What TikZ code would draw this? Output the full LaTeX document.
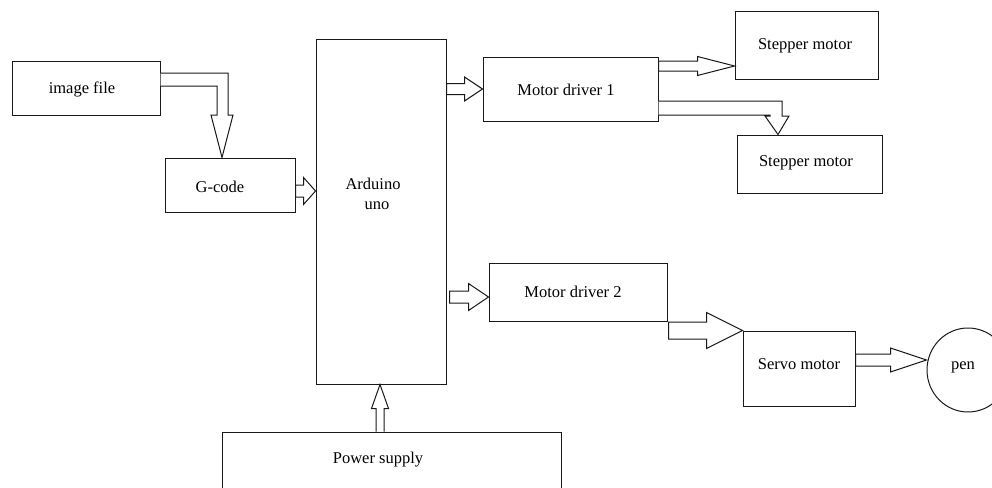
\documentclass[tikz,border=0pt]{standalone}
\usepackage{fontspec}
\setmainfont{Liberation Serif}
\usetikzlibrary{calc,shapes.geometric}
\tikzset{
  box/.style={draw=black!90, line width=1pt, fill=white, inner sep=0pt, rectangle},
  lbl/.style={inner sep=0pt, font=\fontsize{16.5}{20}\selectfont, text=black},
  blk/.style={draw=black!90, line width=1pt, fill=white, line join=miter},
}
% horizontal block arrow: #1 start, #2 tip, #3 shaft half, #4 head half, #5 head length
\newcommand{\hblk}[5]{%
  \draw[blk] ($#1+(0,#3)$) -- ($#2+(-#5,#3)$) -- ($#2+(-#5,#4)$) -- #2
    -- ($#2+(-#5,-#4)$) -- ($#2+(-#5,-#3)$) -- ($#1+(0,-#3)$) -- cycle;}
\begin{document}
\begin{tikzpicture}[x=1pt,y=-1pt]
\useasboundingbox (0,0) rectangle (992,487);
\clip (0,0) rectangle (992,487);
\fill[white] (0,0) rectangle (992,487);
% boxes
\node[box, minimum width=148pt, minimum height=54pt] (img) at (86,88) {};
\node[box, minimum width=130pt, minimum height=54pt] (gcode) at (230,185) {};
\node[box, minimum width=130pt, minimum height=344pt] (ard) at (381,212) {};
\node[box, minimum width=175pt, minimum height=63pt] (md1) at (570.5,89.5) {};
\node[box, minimum width=143pt, minimum height=67pt] (st1) at (806.5,45.5) {};
\node[box, minimum width=145pt, minimum height=58pt] (st2) at (809.5,164) {};
\node[box, minimum width=178pt, minimum height=58pt] (md2) at (578,292) {};
\node[box, minimum width=112pt, minimum height=75pt] (servo) at (799,368.5) {};
\node[box, minimum width=339pt, minimum height=90pt] (power) at (391.5,477) {};
\node[draw=black!90, line width=1pt, ellipse, minimum width=82pt, minimum height=84pt, inner sep=0pt] (pen) at (968,370) {};
% texts
\node[lbl] (timg) at (82,89) {image file};
\node[lbl] (tgc) at (220,187) {G-code};
\node[lbl] (tard1) at (373,184) {Arduino};
\node[lbl] (tard2) at (377,206) {uno};
\node[lbl] (tmd1) at (566,90) {Motor driver 1};
\node[lbl] (tst1) at (805,46) {Stepper motor};
\node[lbl] (tst2) at (806,163) {Stepper motor};
\node[lbl] (tmd2) at (573,292) {Motor driver 2};
\node[lbl] (tservo) at (799,364) {Servo motor};
\node[lbl] (tpen) at (963,367) {pen};
\node[lbl] (tpow) at (378,460) {Power supply};
% straight block arrows
\hblk{(gcode.east |- 0,191)}{(ard.west |- 0,191)}{6}{13.5}{12}
\hblk{(ard.east |- 0,89)}{(md1.west |- 0,89)}{5.5}{12}{18}
\hblk{(md1.east |- 0,66)}{(st1.west |- 0,66)}{5}{9.5}{37}
\hblk{($(ard.east |- 0,297)+(3,0)$)}{(md2.west |- 0,297)}{6}{13.5}{20}
\hblk{($(md2.east |- servo.north west)+(1,0)$)}{(servo.north west)}{8.5}{18}{36}
\hblk{(servo.east |- 0,360)}{(pen.west |- 0,360)}{6}{12}{36}
% power -> arduino (vertical)
\draw[blk] ($(power.north)+(-15.5,0)$) -- ($(ard.south)+(-5,24)$) -- ($(ard.south)+(-9.5,24)$)
  -- ($(ard.south)+(-1,0)$) -- ($(ard.south)+(7.5,24)$) -- ($(ard.south)+(3,24)$) -- ($(power.north)+(-7.5,0)$);
% image file -> G-code (L-shaped)
\draw[blk] (img.east |- 0,73) -- (228,73) -- (228,115) -- (233,115) -- (gcode.north -| 222,0)
  -- (211,115) -- (217,115) -- (217,86) -- (img.east |- 0,86);
% motor driver 1 -> stepper 2 (L-shaped)
\draw[blk] (md1.east |- 0,101) -- (782,101) -- (782,116) -- (789,116) -- (st2.north -| 778,0)
  -- (765,116) -- (770,116) -- (770,115) -- (md1.east |- 0,115);
\end{tikzpicture}
\end{document}
